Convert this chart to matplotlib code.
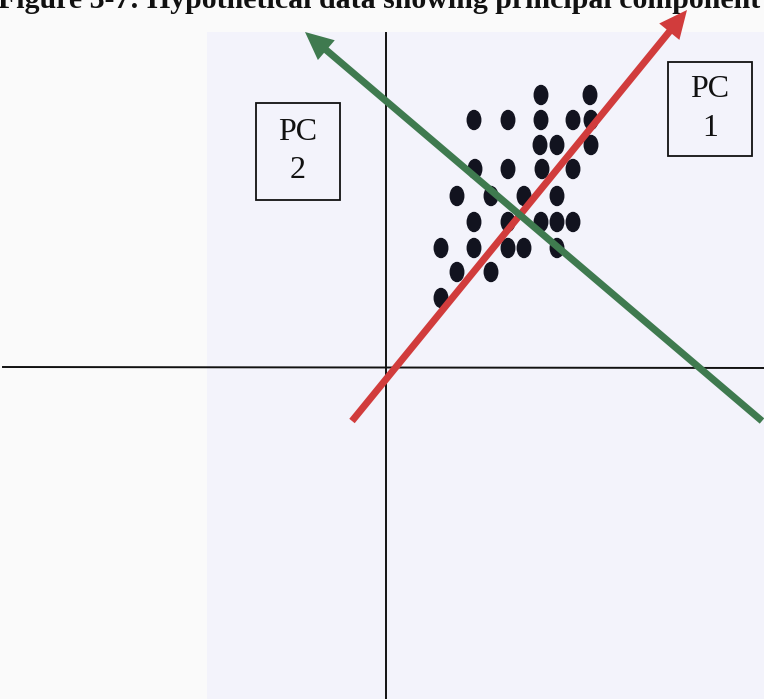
import matplotlib.pyplot as plt
from matplotlib.patches import Ellipse, Rectangle

# scores (pixel-space layout, y grows downward)
dot_x = [541, 590,
         474, 508, 541, 573, 591,
         540, 557, 591,
         475, 508, 542, 573,
         457, 491, 524, 557,
         474, 508, 541, 557, 573,
         441, 474, 508, 524, 557,
         457, 491,
         441]
dot_y = [95, 95,
         120, 120, 120, 120, 120,
         145, 145, 145,
         169, 169, 169, 169,
         196, 196, 196, 196,
         222, 222, 222, 222, 222,
         248, 248, 248, 248, 248,
         272, 272,
         298]

# principal component directions: tail -> tip
pc1 = [(352, 421), (687, 10)]
pc2 = [(762, 421), (305, 32)]

title = 'Figure 3-7: Hypothetical data showing principal component'

W, H = 764, 699
fig = plt.figure(figsize=(W / 100, H / 100), dpi=100, facecolor='#fafafa')
ax = fig.add_axes([0, 0, 1, 1])
ax.set_xlim(0, W)
ax.set_ylim(H, 0)
ax.axis('off')

# scanned page tint
ax.add_patch(Rectangle((207, 32), W - 207, H - 32, color='#f3f3fb', lw=0, zorder=0))

# caption runs off the top of the page
ax.text(-2, 8, title, fontsize=21.5, fontweight='bold', family='Liberation Serif',
        va='baseline', ha='left', color='#111111')

# coordinate axes
ax.plot([386, 386], [33, H], color='#111111', lw=1.4, zorder=2)
ax.plot([3, W], [367, 368], color='#111111', lw=1.4, zorder=2)

for x, y in zip(dot_x, dot_y):
    ax.add_patch(Ellipse((x, y), 13.5, 19, color='#12131f', zorder=3))

for (x0, y0), (x1, y1), c in [(pc1[0], pc1[1], '#d13c3c'), (pc2[0], pc2[1], '#3f7a4f')]:
    ax.arrow(x0, y0, x1 - x0, y1 - y0, width=7, head_width=26, head_length=28,
             length_includes_head=True, color=c, lw=0, zorder=4)

# labels in boxes
for (bx, by, bw, bh), num in [((256, 103, 84, 97), '2'), ((668, 62, 84, 94), '1')]:
    ax.add_patch(Rectangle((bx, by), bw, bh, fill=False, ec='#111111', lw=1.3, zorder=5))
    ax.text(bx + bw / 2, by + bh / 2, 'PC\n' + num, fontsize=23, family='Liberation Serif',
            ha='center', va='center', linespacing=1.45, color='#111111', zorder=5)

fig.savefig('out.png', dpi=100, facecolor=fig.get_facecolor())
